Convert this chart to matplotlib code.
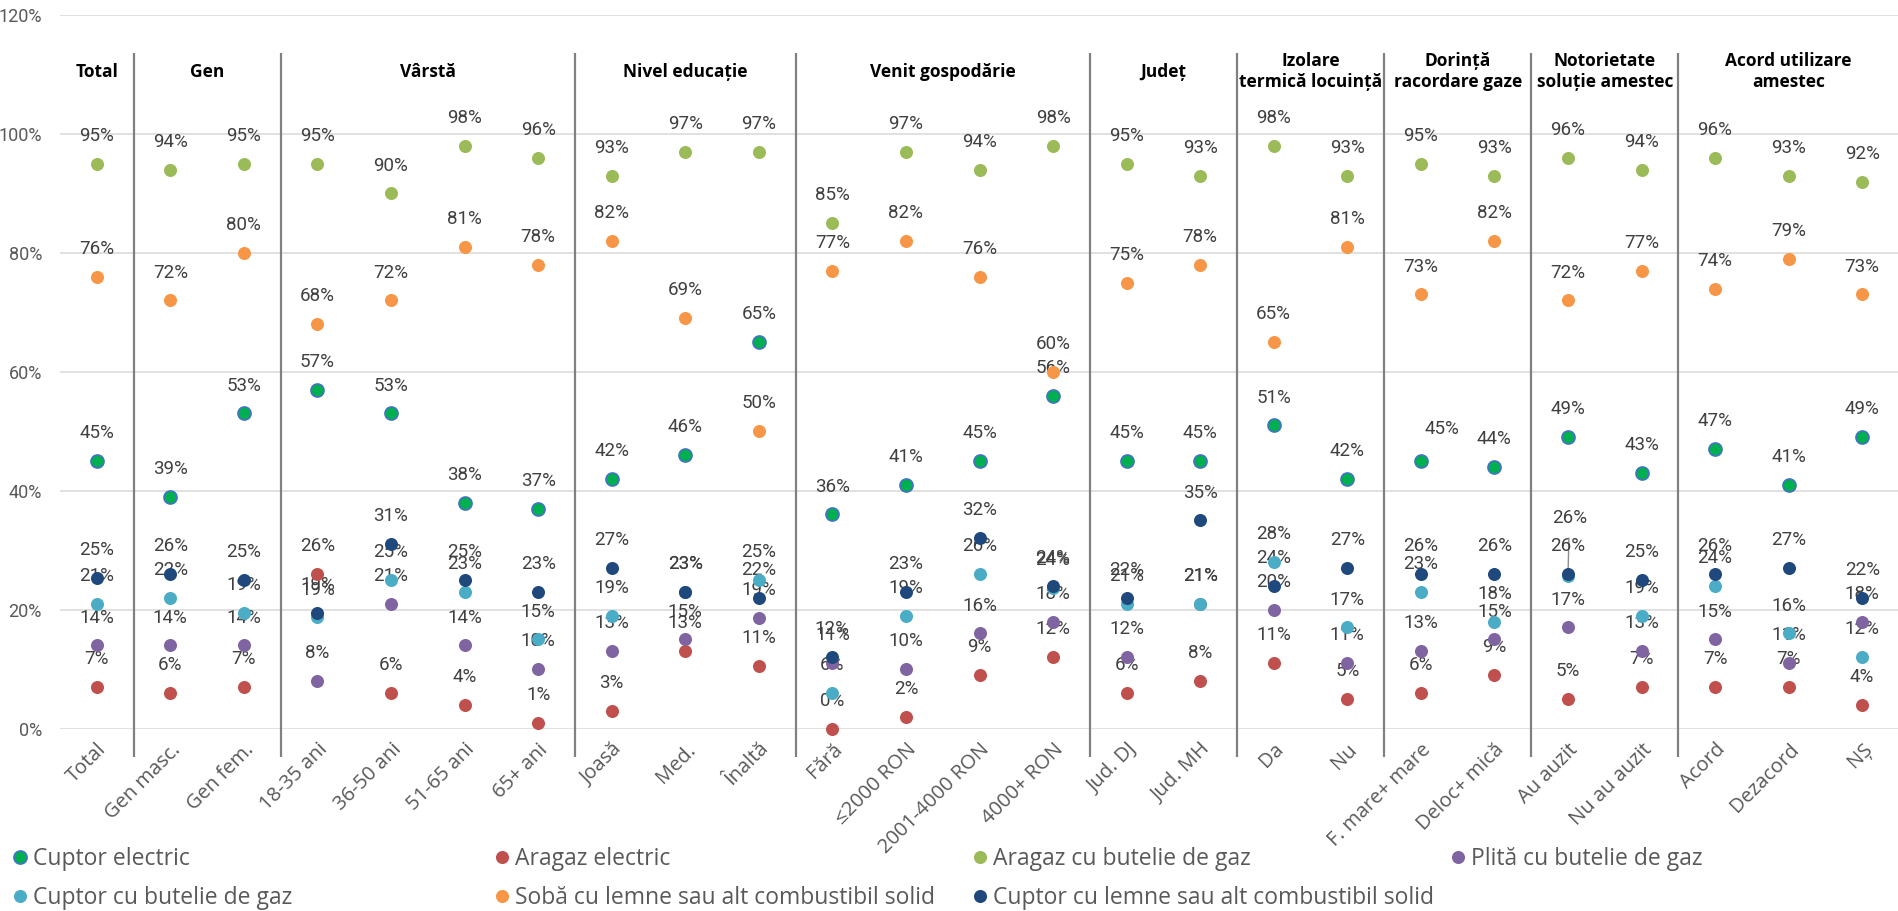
import matplotlib
matplotlib.use("Agg")
import matplotlib.pyplot as plt
from matplotlib import font_manager
from matplotlib.lines import Line2D

# categorii (axa x)
categories = ["Total", "Gen masc.", "Gen fem.", "18-35 ani", "36-50 ani", "51-65 ani",
              "65+ ani", "Joasă", "Med.", "Înaltă", "Fără", "≤2000 RON",
              "2001-4000 RON", "4000+ RON", "Jud. DJ", "Jud. MH", "Da", "Nu",
              "F. mare+ mare", "Deloc+ mică", "Au auzit", "Nu au auzit",
              "Acord", "Dezacord", "NȘ"]

groups = ["Total", "Gen", "Vârstă", "Nivel educație", "Venit gospodărie", "Județ",
          "Izolare\ntermică locuință", "Dorință\nracordare gaze",
          "Notorietate\nsoluție amestec", "Acord utilizare\namestec"]
group_sizes = [1, 2, 4, 3, 4, 2, 2, 2, 2, 3]

# valori (%)
cuptor_electric = [45, 39, 53, 57, 53, 38, 37, 42, 46, 65, 36, 41, 45, 56, 45, 45,
                   51, 42, 45, 44, 49, 43, 47, 41, 49]
aragaz_electric = [7, 6, 7, 26, 6, 4, 1, 3, 13, 10.6, 0, 2, 9, 12, 6, 8,
                   11, 5, 6, 9, 5, 7, 7, 7, 4]
aragaz_butelie = [95, 94, 95, 95, 90, 98, 96, 93, 97, 97, 85, 97, 94, 98, 95, 93,
                  98, 93, 95, 93, 96, 94, 96, 93, 92]
plita_butelie = [14, 14, 14, 8, 21, 14, 10, 13, 15, 18.6, 11, 10, 16, 18, 12, 21,
                 20, 11, 13, 15, 17, 13, 15, 11, 18]
cuptor_butelie = [20.9, 22, 19.4, 18.7, 25, 23, 15, 19, 23, 25, 6, 19, 26, 23.7, 21, 21,
                  28, 17, 23, 18, 25.6, 19, 24, 16, 12]
soba_lemne = [76, 72, 80, 68, 72, 81, 78, 82, 69, 50, 77, 82, 76, 60, 75, 78,
              65, 81, 73, 82, 72, 77, 74, 79, 73]
cuptor_lemne = [25.4, 26, 25, 19.4, 31, 25, 23, 27, 23, 22, 12, 23, 32, 24, 22, 35,
                24, 27, 26, 26, 26, 25, 26, 27, 22]

names = ["Cuptor electric", "Aragaz electric", "Aragaz cu butelie de gaz",
         "Plită cu butelie de gaz", "Cuptor cu butelie de gaz",
         "Sobă cu lemne sau alt combustibil solid",
         "Cuptor cu lemne sau alt combustibil solid"]
series = [cuptor_electric, aragaz_electric, aragaz_butelie, plita_butelie,
          cuptor_butelie, soba_lemne, cuptor_lemne]
colors = ["#00B050", "#C0504D", "#9BBB59", "#8064A2", "#4BACC6", "#F79646", "#1F497D"]
edges = ["#4472C4", None, None, None, None, None, None]

# etichete mutate manual (dx, dy in puncte, linie de legatura)
label_moves = {("Cuptor cu butelie de gaz", "Au auzit"): (1, 42, True),
               ("Cuptor electric", "F. mare+ mare"): (15, 23, False)}

installed = {f.name for f in font_manager.fontManager.ttflist}
main_font = "Open Sans" if "Open Sans" in installed else "DejaVu Sans"
num_font = "Liberation Sans Narrow" if "Liberation Sans Narrow" in installed else "Roboto"
plt.rcParams["font.family"] = [main_font, "DejaVu Sans"]

fig = plt.figure(figsize=(18.99, 9.11), dpi=100)
ax = fig.add_axes([0.0316, 0.2003, 0.9684, 0.7832])

x = list(range(len(categories)))
for name, vals, col, ec in zip(names, series, colors, edges):
    ax.scatter(x, vals, s=88, color=col, edgecolors=ec if ec else col,
               linewidths=1.2 if ec else 0, zorder=3, clip_on=False)
    for xi, v in zip(x, vals):
        dx, dy, leader = label_moves.get((name, categories[xi]), (0, 20, False))
        ax.annotate(f"{round(v)}%", (xi, v), xytext=(dx, dy), textcoords="offset points",
                    ha="center", va="center", fontsize=13.5, color="#404040",
                    family=[num_font, main_font, "DejaVu Sans"], zorder=2,
                    arrowprops=dict(arrowstyle="-", color="#8c8c8c", lw=1,
                                    shrinkA=6, shrinkB=0) if leader else None)

# separatoare grupe si titluri
start = 0
for g, n in zip(groups, group_sizes):
    center = start + (n - 1) / 2
    ax.text(center, 110.5, g, ha="center", va="center", fontsize=12.5,
            fontweight="bold", color="black", linespacing=1.25)
    if start + n < len(categories):
        ax.vlines(start + n - 0.5, -4.8, 113.6, colors="#808080", lw=1.6,
                  clip_on=False, zorder=1)
    start += n

ax.set_xlim(-0.5, len(categories) - 0.5)
ax.set_ylim(0, 120)
ax.set_yticks(range(0, 121, 20))
ax.set_yticklabels([f"{t}%" for t in range(0, 121, 20)],
                   family=[num_font, main_font], fontsize=13, color="#595959")
ax.set_xticks(x)
ax.set_xticklabels(categories, rotation=45, ha="right", rotation_mode="anchor",
                   fontsize=14.5, color="#595959")
ax.tick_params(axis="y", length=0, pad=13)
ax.tick_params(axis="x", length=0, pad=8)
ax.grid(axis="y", color="#d9d9d9", lw=1.1)
ax.set_axisbelow(True)
for s in ax.spines.values():
    s.set_visible(False)

# legenda pe 4 coloane, completata pe randuri
handles = [Line2D([], [], ls="none", marker="o", markersize=9.4, markerfacecolor=c,
                  markeredgecolor=e if e else c, markeredgewidth=1.2 if e else 0)
           for c, e in zip(colors, edges)]
col_x = [13.7, 495.7, 973.7, 1451.7]
for c in range(4):
    idx = [c, c + 4] if c + 4 < len(names) else [c]
    fig.legend([handles[i] for i in idx], [names[i] for i in idx], loc="upper left",
               bbox_to_anchor=(col_x[c] / 1899, 0.0705), frameon=False, borderpad=0,
               borderaxespad=0, handlelength=0.55, handletextpad=0.29,
               labelspacing=0.67, prop={"family": [main_font, "DejaVu Sans"], "size": 16.5},
               labelcolor="#595959")

fig.savefig("out.png", dpi=100)
